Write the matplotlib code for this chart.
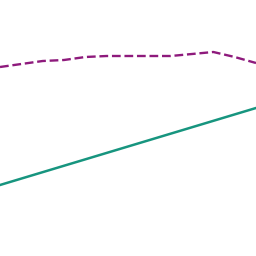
import numpy as np
import matplotlib.pyplot as plt

# two series, x = step index
steps = np.arange(13)
dashed_vals = [189, 192, 195, 196, 199, 200, 200, 200, 200, 202, 204, 199, 193]
trend_x = [0, 12]
trend_vals = [71, 148]

fig = plt.figure(figsize=(2.56, 2.56), dpi=100)
ax = fig.add_axes([0, 0, 1, 1])
ax.plot(steps, dashed_vals, color="#8e1a7c", lw=1.7, ls="--")
ax.plot(trend_x, trend_vals, color="#17957f", lw=1.8)
ax.set_xlim(0, 12)
ax.set_ylim(0, 256)
ax.axis("off")
fig.savefig("out.png", dpi=100)
